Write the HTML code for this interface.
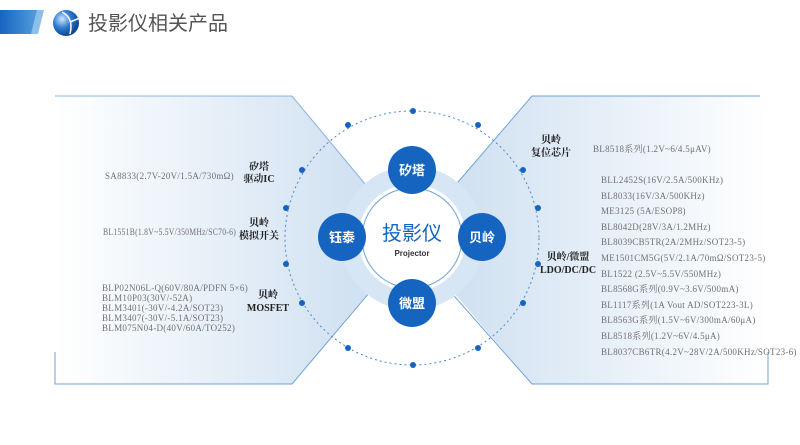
<!DOCTYPE html>
<html><head><meta charset="utf-8"><style>
body{margin:0;background:#fff;}
svg{display:block;}
.t{font-family:"Liberation Serif","Noto Serif CJK SC",serif;font-size:9px;fill:#707070;letter-spacing:0.3px;}
.l{font-family:"Liberation Serif","Noto Serif CJK SC",serif;font-size:10px;font-weight:bold;fill:#222;}
.c{font-family:"Liberation Sans","Noto Sans CJK SC",sans-serif;font-size:13px;fill:#fff;font-weight:bold;}
</style></head><body>
<svg width="800" height="445" viewBox="0 0 800 445" xmlns="http://www.w3.org/2000/svg">
<defs>
<linearGradient id="gl" x1="0" x2="1" y1="0" y2="0"><stop offset="0" stop-color="#fff"/><stop offset="1" stop-color="#cfe0f1"/></linearGradient>
<linearGradient id="gr" x1="1" x2="0" y1="0" y2="0"><stop offset="0" stop-color="#fff"/><stop offset="1" stop-color="#cfe0f1"/></linearGradient>
<linearGradient id="bar" x1="0" x2="1"><stop offset="0" stop-color="#1565c0"/><stop offset="1" stop-color="#5aa0e0"/></linearGradient>
<radialGradient id="sph" cx="0.35" cy="0.35" r="0.7"><stop offset="0" stop-color="#cfe6ff"/><stop offset="0.5" stop-color="#2a7bd0"/><stop offset="1" stop-color="#0b3f85"/></radialGradient>
</defs>
<polygon points="0,10 40,10 34,34 0,34" fill="url(#bar)"/>
<polygon points="37,10 44,10 38,34 31,34" fill="#8cc0ec"/>
<circle cx="66" cy="23" r="13" fill="url(#sph)"/>
<path d="M62,12 Q74,18 70,34 M70,22 L80,18" stroke="#fff" stroke-width="1.5" fill="none"/>
<text x="88" y="30" font-family="Liberation Sans,Noto Sans CJK SC,sans-serif" font-size="20" fill="#555">投影仪相关产品</text>
<polygon points="55,96 292,96 372,192 372,288 292,384 55,384" fill="url(#gl)"/>
<polyline points="55,352 55,384 292,384 380,280" fill="none" stroke="#6fa3d8" stroke-width="1"/>
<polyline points="55,96 292,96 375,196" fill="none" stroke="#6fa3d8" stroke-width="1" opacity="0.8"/>
<polygon points="532,96 768,96 768,384 532,384 450,288 450,192" fill="url(#gr)"/>
<polyline points="760,96 532,96 446,196" fill="none" stroke="#6fa3d8" stroke-width="1"/>
<polyline points="440,280 532,384 768,384 768,352" fill="none" stroke="#6fa3d8" stroke-width="1"/>
<circle cx="412" cy="238" r="127" fill="none" stroke="#4a8ad0" stroke-width="1" stroke-dasharray="2,3"/>
<circle cx="412" cy="238" r="72" fill="#d6e6f5"/>
<circle cx="412" cy="238" r="54" fill="#fff"/>
<circle cx="412" cy="238" r="50" fill="none" stroke="#6fa3d8" stroke-width="1"/>
<g fill="#1565c0">
<circle cx="413" cy="111" r="3"/><circle cx="348" cy="125" r="3"/><circle cx="478" cy="125" r="3"/>
<circle cx="302" cy="170" r="3"/><circle cx="286" cy="208" r="3"/><circle cx="286" cy="264" r="3"/><circle cx="302" cy="303" r="3"/>
<circle cx="348" cy="348" r="3"/><circle cx="413" cy="365" r="3"/><circle cx="478" cy="348" r="3"/>
<circle cx="523" cy="170" r="3"/><circle cx="538" cy="208" r="3"/><circle cx="538" cy="264" r="3"/><circle cx="523" cy="303" r="3"/>
</g>
<g fill="#1565c0">
<circle cx="412" cy="170" r="24"/><circle cx="342" cy="237" r="24"/><circle cx="482" cy="237" r="24"/><circle cx="412" cy="303" r="24"/>
</g>
<text class="c" x="412" y="175" text-anchor="middle">矽塔</text>
<text class="c" x="342" y="242" text-anchor="middle">钰泰</text>
<text class="c" x="482" y="242" text-anchor="middle">贝岭</text>
<text class="c" x="412" y="308" text-anchor="middle">微盟</text>
<text x="412" y="240" text-anchor="middle" font-family="Liberation Sans,Noto Sans CJK SC,sans-serif" font-size="20" fill="#1565c0">投影仪</text>
<text x="412" y="256" text-anchor="middle" font-family="Liberation Sans,sans-serif" font-size="8" font-weight="bold" fill="#333">Projector</text>
<text class="t" x="105" y="179">SA8833(2.7V-20V/1.5A/730mΩ)</text>
<text class="l" x="259" y="170" text-anchor="middle">矽塔</text>
<text class="l" x="259" y="182" text-anchor="middle">驱动IC</text>
<text class="t" x="103" y="235" textLength="133" lengthAdjust="spacingAndGlyphs">BL1551B(1.8V~5.5V/350MHz/SC70-6)</text>
<text class="l" x="259" y="226" text-anchor="middle">贝岭</text>
<text class="l" x="259" y="239" text-anchor="middle">模拟开关</text>
<text class="t" x="102" y="291">BLP02N06L-Q(60V/80A/PDFN 5×6)</text>
<text class="t" x="102" y="301">BLM10P03(30V/-52A)</text>
<text class="t" x="102" y="311">BLM3401(-30V/-4.2A/SOT23)</text>
<text class="t" x="102" y="321">BLM3407(-30V/-5.1A/SOT23)</text>
<text class="t" x="102" y="331">BLM075N04-D(40V/60A/TO252)</text>
<text class="l" x="268" y="298" text-anchor="middle">贝岭</text>
<text class="l" x="268" y="311" text-anchor="middle">MOSFET</text>
<text class="l" x="551" y="143" text-anchor="middle">贝岭</text>
<text class="l" x="551" y="156" text-anchor="middle">复位芯片</text>
<text class="t" x="593" y="152">BL8518系列(1.2V~6/4.5μAV)</text>
<text class="l" x="568" y="260" text-anchor="middle">贝岭/微盟</text>
<text class="l" x="568" y="273" text-anchor="middle">LDO/DC/DC</text>
<text class="t" x="601" y="183">BLL2452S(16V/2.5A/500KHz)</text>
<text class="t" x="601" y="199">BL8033(16V/3A/500KHz)</text>
<text class="t" x="601" y="214">ME3125 (5A/ESOP8)</text>
<text class="t" x="601" y="230">BL8042D(28V/3A/1.2MHz)</text>
<text class="t" x="601" y="245">BL8039CB5TR(2A/2MHz/SOT23-5)</text>
<text class="t" x="601" y="261">ME1501CM5G(5V/2.1A/70mΩ/SOT23-5)</text>
<text class="t" x="601" y="277">BL1522 (2.5V~5.5V/550MHz)</text>
<text class="t" x="601" y="292">BL8568G系列(0.9V~3.6V/500mA)</text>
<text class="t" x="601" y="308">BL1117系列(1A Vout AD/SOT223-3L)</text>
<text class="t" x="601" y="323">BL8563G系列(1.5V~6V/300mA/60μA)</text>
<text class="t" x="601" y="339">BL8518系列(1.2V~6V/4.5μA)</text>
<text class="t" x="601" y="355">BL8037CB6TR(4.2V~28V/2A/500KHz/SOT23-6)</text>
</svg>
</body></html>
